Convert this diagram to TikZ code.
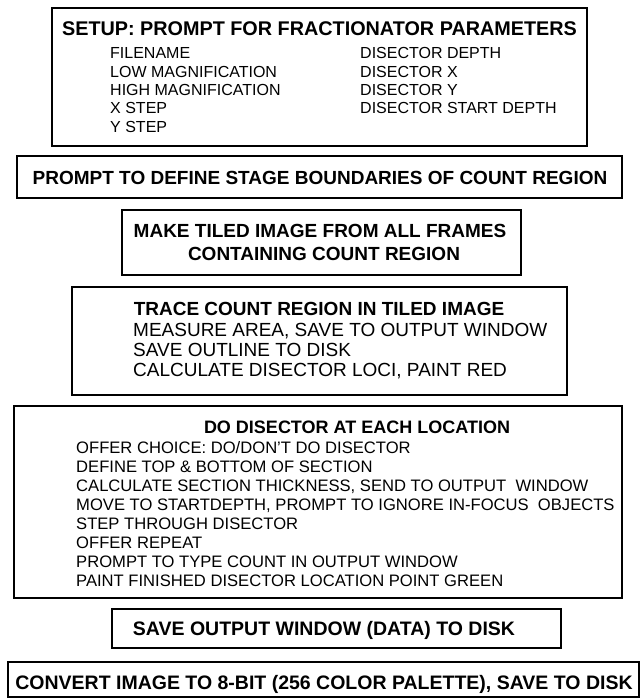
\documentclass[tikz,border=0pt]{standalone}
\usepackage{fontspec}
\setmainfont{Liberation Sans}
\tikzset{
  box/.style={draw, line width=1.8pt, inner sep=0pt, outer sep=0pt},
  head/.style={font=\bfseries\fontsize{19}{19}\selectfont, inner sep=0pt, anchor=base},
  item/.style={font=\fontsize{16}{16}\selectfont, inner sep=0pt, anchor=base west},
  bigitem/.style={font=\fontsize{19}{19}\selectfont, inner sep=0pt, anchor=base west},
}
\begin{document}
\begin{tikzpicture}[x=1pt, y=-1pt]
  \useasboundingbox[fill=white] (0,0) rectangle (644,698);
  % Setup box with parameter list
  \node[box, minimum width=535pt, minimum height=138pt] (setup) at (319.5,77) {};
  \node[head, font=\bfseries\fontsize{19.8}{19.8}\selectfont] (setuphead) at (319.5,36) {SETUP: PROMPT FOR FRACTIONATOR PARAMETERS};
  \foreach \txt [count=\i from 0] in {FILENAME, LOW MAGNIFICATION, HIGH MAGNIFICATION, X STEP, Y STEP}
    \node[item] (parl\i) at (110,{59+18.3*\i}) {\txt};
  \foreach \txt [count=\i from 0] in {DISECTOR DEPTH, DISECTOR X, DISECTOR Y, DISECTOR START DEPTH}
    \node[item] (parr\i) at (360,{59+18.3*\i}) {\txt};
  % Stage boundaries
  \node[box, minimum width=605pt, minimum height=42pt] (stage) at (319.5,177) {};
  \node[head] (stagehead) at (320,184) {PROMPT TO DEFINE STAGE BOUNDARIES OF COUNT REGION};
  % Tiled image
  \node[box, minimum width=399pt, minimum height=65pt] (tile) at (321.5,242.5) {};
  \node[head] (tilehead) at (320,237) {MAKE TILED IMAGE FROM ALL FRAMES};
  \node[head] (tilehead2) at (324,260) {CONTAINING COUNT REGION};
  % Trace count region
  \node[box, minimum width=495pt, minimum height=108pt] (trace) at (319.5,341) {};
  \node[head] (tracehead) at (319,315) {TRACE COUNT REGION IN TILED IMAGE};
  \foreach \txt [count=\i from 0] in {{MEASURE AREA, SAVE TO OUTPUT WINDOW}, SAVE OUTLINE TO DISK, {CALCULATE DISECTOR LOCI, PAINT RED}}
    \node[bigitem] (trace\i) at (133,{336+20*\i}) {\txt};
  % Disector loop
  \node[box, minimum width=608pt, minimum height=192pt] (disector) at (318,502) {};
  \node[head, font=\bfseries\fontsize{18}{18}\selectfont] (dishead) at (357,433) {DO DISECTOR AT EACH LOCATION};
  \foreach \txt [count=\i from 0] in {OFFER CHOICE: DO/DON'T DO DISECTOR, DEFINE TOP \& BOTTOM OF SECTION,
      {CALCULATE SECTION THICKNESS, SEND TO OUTPUT\ \ WINDOW},
      {MOVE TO STARTDEPTH, PROMPT TO IGNORE IN-FOCUS\ \ OBJECTS},
      STEP THROUGH DISECTOR, OFFER REPEAT, PROMPT TO TYPE COUNT IN OUTPUT WINDOW,
      PAINT FINISHED DISECTOR LOCATION POINT GREEN}
    \node[item, font=\fontsize{16.6}{16.6}\selectfont] (dis\i) at (76,{453+19*\i}) {\txt};
  % Save data
  \node[box, minimum width=449pt, minimum height=39pt] (save) at (336.5,628.5) {};
  \node[head, font=\bfseries\fontsize{19.5}{19.5}\selectfont] (savehead) at (324,635) {SAVE OUTPUT WINDOW (DATA) TO DISK};
  % Convert image
  \node[box, minimum width=631pt, minimum height=35pt] (convert) at (323.5,679.5) {};
  \node[head, font=\bfseries\fontsize{19.5}{19.5}\selectfont] (converthead) at (324,689) {CONVERT IMAGE TO 8-BIT (256 COLOR PALETTE), SAVE TO DISK};
\end{tikzpicture}
\end{document}
